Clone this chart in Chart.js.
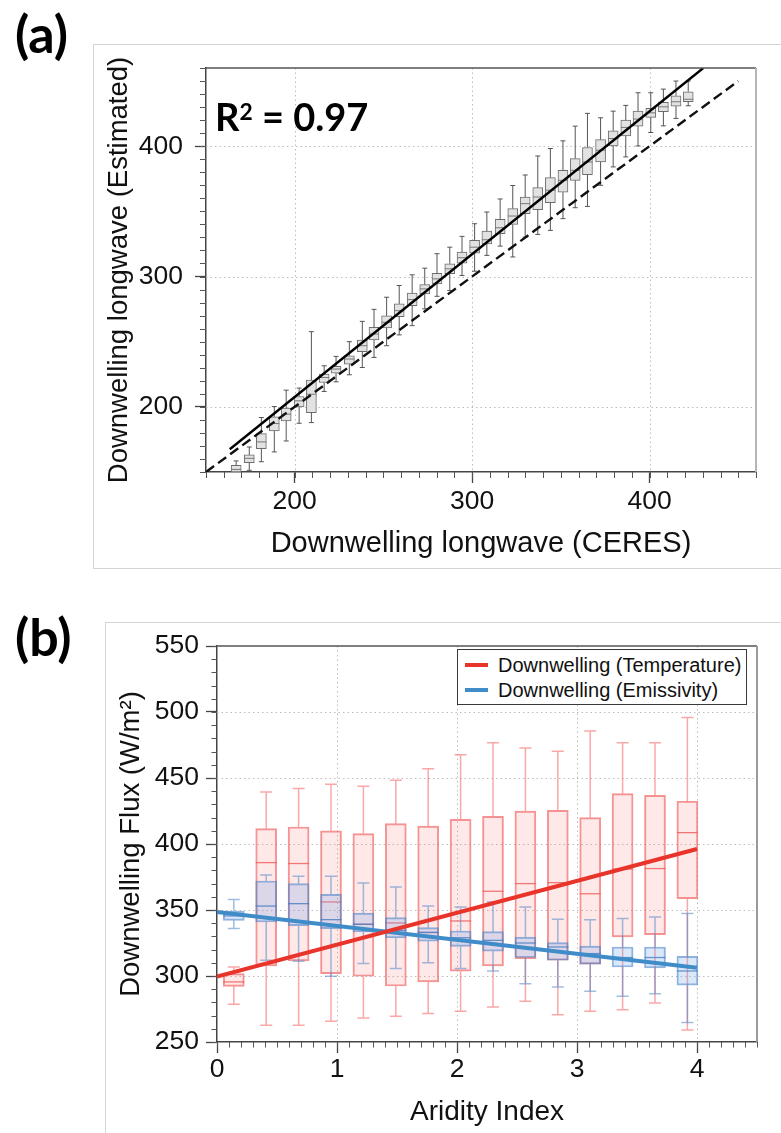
<!DOCTYPE html>
<html lang="en">
<head>
<meta charset="utf-8">
<title>Downwelling longwave</title>
<script src="https://cdn.jsdelivr.net/npm/chart.js@4.4.1/dist/chart.umd.min.js"></script>
<style>
  html, body { margin: 0; padding: 0; background: #fff; }
  body { position: relative; width: 781px; height: 1133px; overflow: hidden; }
  .frame { position: absolute; border: 1.5px solid #d5d5d5; box-sizing: border-box; }
  .tag { position: absolute; font-family: Lato, "Open Sans", sans-serif; font-weight: 700; color: #000; line-height: 1; white-space: nowrap; }
  canvas { position: absolute; left: 0; }
  #legendB { position: absolute; left: 457px; top: 649px; width: 290px; height: 56px; box-sizing: border-box;
             border: 1.5px solid #3a3a3a; background: #fff; font-family: "Liberation Sans", Arial, sans-serif;
             font-size: 20px; color: #111; }
  #legendB .row { position: absolute; left: 0; height: 24px; display: flex; align-items: center; white-space: nowrap; }
  #legendB .swatch { width: 23px; height: 3.5px; margin-left: 7px; margin-right: 10px; }
</style>
</head>
<body>
<div class="frame" style="left:93px;top:44px;width:720px;height:525px;"></div>
<div class="frame" style="left:105px;top:622px;width:720px;height:560px;"></div>
<div class="tag" style="left:15px;top:7px;font-size:52px;">(a)</div>
<div class="tag" style="left:15px;top:610px;font-size:52px;">(b)</div>
<canvas id="chartA" width="781" height="580" style="top:0"></canvas>
<canvas id="chartB" width="781" height="548" style="top:585px"></canvas>
<div class="tag" style="left:215px;top:97px;font-size:38px;">R<span style="font-size:0.6em;vertical-align:11px">2</span> = 0.97</div>
<div id="legendB"></div>

<script>
// ---------- Panel (a): estimated vs. CERES downwelling longwave, binned ----------
const ceresBins = [167.0, 174.4, 181.2, 188.5, 195.2, 202.5, 209.4, 216.6, 223.3, 230.8, 238.1, 244.7, 251.8,
  258.9, 266.2, 273.3, 280.2, 287.4, 294.3, 301.4, 308.3, 315.8, 322.9, 329.9, 337.0, 344.1, 351.2, 358.1,
  365.0, 372.4, 379.5, 386.6, 393.5, 400.7, 407.8, 414.9, 421.8];
const estWhiskerLow = [148, 151.3, 157.9, 165.4, 173.8, 187.4, 187.9, 211.8, 219.2, 224.6, 230.2, 237.9, 246.9,
  255.2, 262.3, 275.2, 284.8, 289.2, 300.8, 304.1, 316.2, 323.3, 315.0, 330.2, 332.3, 335.4, 344.4, 352.8,
  353.8, 370.0, 384.1, 391.8, 400.2, 410.5, 415.6, 421.3, 431.0];
const estQ1 = [150, 157.2, 167.9, 181.5, 189.2, 200.0, 195.6, 218.7, 225.9, 232.8, 242.3, 251.3, 260.5,
  269.2, 277.7, 286.7, 294.4, 302.1, 310.3, 318.0, 325.1, 332.8, 340.0, 348.2, 351.3, 356.7, 364.8, 373.8,
  378.2, 387.9, 400.2, 407.9, 415.4, 422.1, 426.4, 430.8, 434.1];
const estMedian = [152, 160.5, 173.1, 187.2, 194.4, 204.6, 209.7, 222.5, 229.0, 236.7, 246.9, 255.9, 264.9,
  273.8, 282.3, 290.5, 298.2, 305.9, 314.4, 322.5, 328.2, 337.4, 346.4, 355.9, 361.0, 366.2, 373.8, 381.5,
  387.9, 396.9, 405.9, 414.4, 420.8, 425.6, 430.2, 434.1, 436.0];
const estQ3 = [155.1, 163.1, 179.5, 192.3, 199.0, 207.9, 220.5, 225.1, 231.0, 239.2, 251.3, 261.0, 269.8,
  279.0, 287.2, 293.8, 302.5, 309.8, 318.7, 327.7, 334.8, 343.8, 352.1, 361.0, 368.2, 375.9, 381.5, 390.5,
  399.0, 405.1, 411.8, 420.0, 426.9, 429.0, 433.6, 438.7, 441.8];
const estWhiskerHigh = [158.5, 169.2, 191.8, 200.2, 212.8, 214.4, 257.7, 231.5, 238.7, 250.0, 265.6, 274.8, 284.1,
  293.1, 301.3, 306.4, 317.5, 322.5, 330.8, 340.5, 349.5, 359.5, 369.8, 377.9, 392.5, 398.2, 404.1, 415.4,
  425.2, 421.8, 426.9, 431.3, 441.0, 441.0, 443.8, 450.0, 450.0];
const fitLineX = [163.4, 430.3];
const fitLineY = [167.5, 460.0];
const oneToOneX = [150, 450];
const oneToOneY = [150, 450];
const ticksA = [200, 300, 400];

// ---------- Panel (b): downwelling flux components vs. aridity index ----------
const aridityBins = [0.14, 0.41, 0.68, 0.95, 1.22, 1.49, 1.76, 2.03, 2.30, 2.57, 2.84, 3.11, 3.38, 3.65, 3.92];
const tempLow    = [278.6, 262.7, 262.7, 265.7, 268.2, 269.5, 271.5, 273.3, 276.5, 280.8, 270.7, 273.3, 274.5, 279.5, 259.0];
const tempQ1     = [292.2, 307.6, 311.4, 301.8, 299.8, 292.4, 295.5, 303.6, 307.6, 313.2, 311.9, 309.0, 329.7, 331.3, 358.6];
const tempMedian = [295.5, 385.9, 385.2, 356.1, 339.2, 340.2, 333.0, 341.7, 364.2, 370.0, 370.7, 362.3, 381.0, 381.4, 408.6];
const tempQ3     = [301.8, 411.6, 412.9, 409.9, 407.9, 415.4, 413.6, 418.7, 421.0, 425.0, 425.5, 420.0, 438.2, 436.9, 432.4];
const tempHigh   = [306.8, 439.4, 442.0, 445.2, 443.7, 448.3, 457.1, 467.7, 476.7, 472.7, 470.2, 485.6, 476.7, 476.7, 495.8];
const emisLow    = [335.9, 311.9, 311.1, 299.8, 309.4, 305.6, 310.1, 305.6, 303.8, 294.2, 291.7, 288.4, 284.6, 286.6, 264.7];
const emisQ1     = [342.2, 340.9, 338.1, 335.9, 333.3, 328.8, 326.3, 322.5, 318.9, 314.0, 311.9, 308.9, 306.8, 306.1, 293.0];
const emisMedian = [345.5, 353.0, 354.8, 342.7, 339.2, 334.6, 333.0, 329.0, 327.0, 325.0, 322.0, 317.0, 314.0, 314.0, 303.8];
const emisQ3     = [349.2, 372.0, 370.0, 361.9, 347.7, 344.2, 336.6, 334.1, 333.6, 329.5, 325.3, 322.7, 322.0, 322.0, 314.9];
const emisHigh   = [357.9, 376.5, 375.5, 375.5, 370.5, 367.5, 353.0, 352.3, 356.1, 352.3, 343.0, 342.7, 343.5, 344.7, 347.3];
const trendX     = [0, 4];
const tempTrendY = [299.5, 396.2];
const emisTrendY = [348.5, 306.3];
const ticksBx = [0, 1, 2, 3, 4];
const ticksBy = [250, 300, 350, 400, 450, 500, 550];

const FONT = '"Liberation Sans", Arial, sans-serif';

// Whiskers and median lines for floating-bar box plots
const boxWhiskers = {
  id: 'boxWhiskers',
  afterDatasetDraw(chart, args) {
    const ds = chart.data.datasets[args.index];
    if (!ds.whisker) return;
    const { ctx, chartArea: a, scales: { x, y } } = chart;
    const w = ds.whisker;
    ctx.save();
    ctx.beginPath();
    ctx.rect(a.left, a.top, a.right - a.left, a.bottom - a.top);
    ctx.clip();
    ds.data.forEach((d, i) => {
      const cx = x.getPixelForValue(d.x);
      const yLo = y.getPixelForValue(w.low[i]);
      const yHi = y.getPixelForValue(w.high[i]);
      const yQ1 = y.getPixelForValue(d.y[0]);
      const yQ3 = y.getPixelForValue(d.y[1]);
      const yMed = y.getPixelForValue(w.median[i]);
      ctx.strokeStyle = w.color;
      ctx.lineWidth = w.width;
      ctx.beginPath();
      ctx.moveTo(cx, yQ3); ctx.lineTo(cx, yHi);
      ctx.moveTo(cx, yQ1); ctx.lineTo(cx, yLo);
      ctx.moveTo(cx - w.cap / 2, yHi); ctx.lineTo(cx + w.cap / 2, yHi);
      ctx.moveTo(cx - w.cap / 2, yLo); ctx.lineTo(cx + w.cap / 2, yLo);
      ctx.stroke();
      const half = ds.barThickness / 2;
      ctx.strokeStyle = w.medianColor;
      ctx.lineWidth = w.medianWidth;
      ctx.beginPath();
      ctx.moveTo(cx - half, yMed); ctx.lineTo(cx + half, yMed);
      ctx.stroke();
    });
    ctx.restore();
  }
};

// Dotted grid, minor tick marks and the top/right frame of the plot area
const axisDecor = {
  id: 'axisDecor',
  beforeDatasetsDraw(chart, args, o) {
    const { ctx, chartArea: a, scales: { x, y } } = chart;
    ctx.save();
    ctx.strokeStyle = o.gridColor;
    ctx.lineWidth = 1;
    ctx.setLineDash([1.5, 3]);
    ctx.beginPath();
    o.gridX.forEach(v => { const p = Math.round(x.getPixelForValue(v)) + 0.5; ctx.moveTo(p, a.top); ctx.lineTo(p, a.bottom); });
    o.gridY.forEach(v => { const p = Math.round(y.getPixelForValue(v)) + 0.5; ctx.moveTo(a.left, p); ctx.lineTo(a.right, p); });
    ctx.stroke();
    ctx.restore();
  },
  afterDraw(chart, args, o) {
    const { ctx, chartArea: a, scales: { x, y } } = chart;
    ctx.save();
    ctx.strokeStyle = o.tickColor;
    ctx.lineWidth = 1;
    ctx.beginPath();
    const [x0, x1, xs] = o.minorX;
    for (let k = 0; x0 + k * xs <= x1 + 1e-9; k++) {
      const p = Math.round(x.getPixelForValue(x0 + k * xs)) + 0.5;
      ctx.moveTo(p, a.bottom); ctx.lineTo(p, a.bottom + o.minorLen);
    }
    const [y0, y1, ys] = o.minorY;
    for (let k = 0; y0 + k * ys <= y1 + 1e-9; k++) {
      const p = Math.round(y.getPixelForValue(y0 + k * ys)) + 0.5;
      ctx.moveTo(a.left, p); ctx.lineTo(a.left - o.minorLen, p);
    }
    ctx.stroke();
    ctx.lineWidth = 1.5;
    ctx.strokeStyle = o.topColor;
    ctx.beginPath(); ctx.moveTo(a.left, a.top); ctx.lineTo(a.right, a.top); ctx.stroke();
    ctx.lineWidth = 2;
    ctx.strokeStyle = o.rightColor;
    ctx.beginPath(); ctx.moveTo(a.right, a.top); ctx.lineTo(a.right, a.bottom); ctx.stroke();
    ctx.restore();
  }
};

function pts(xs, ys) { return xs.map((v, i) => ({ x: v, y: ys[i] })); }
function boxes(xs, q1, q3) { return xs.map((v, i) => ({ x: v, y: [q1[i], q3[i]] })); }

function axis(opts) {
  return {
    type: 'linear',
    min: opts.min, max: opts.max,
    offset: false,
    afterBuildTicks: s => { s.ticks = opts.ticks.map(v => ({ value: v })); },
    afterFit: s => { if (opts.width) s.width = opts.width; if (opts.height) s.height = opts.height; },
    grid: { display: true, drawOnChartArea: false, offset: false, tickLength: opts.tickLength, tickColor: '#444', tickWidth: 1.3 },
    border: { display: true, color: '#444', width: 1.5 },
    ticks: { autoSkip: false, maxRotation: 0, padding: opts.pad, color: '#111', font: { family: FONT, size: opts.tickSize, lineHeight: 1.2 } },
    title: { display: true, text: opts.title, color: '#111', padding: opts.titlePad, font: { family: FONT, size: opts.titleSize, lineHeight: 1.2 } }
  };
}

// ---------- Chart (a) ----------
new Chart(document.getElementById('chartA'), {
  type: 'bar',
  data: {
    datasets: [
      { type: 'line', data: pts(fitLineX, fitLineY), borderColor: '#000', borderWidth: 2.4, pointRadius: 0, order: 0 },
      { type: 'line', data: pts(oneToOneX, oneToOneY), borderColor: '#111', borderWidth: 2.4, borderDash: [10, 5], pointRadius: 0, order: 1 },
      { type: 'bar', data: boxes(ceresBins, estQ1, estQ3), backgroundColor: '#e2e2e2', borderColor: '#6d6d6d',
        borderWidth: 1, borderSkipped: false, barThickness: 10, grouped: false, order: 2,
        whisker: { low: estWhiskerLow, high: estWhiskerHigh, median: estMedian, color: '#555', width: 1, cap: 5,
                   medianColor: '#777', medianWidth: 1 } }
    ]
  },
  options: {
    responsive: false, animation: false, devicePixelRatio: 1,
    layout: { padding: { left: 96, top: 68, right: 25, bottom: 0 } },
    plugins: {
      legend: { display: false }, tooltip: { enabled: false },
      axisDecor: { gridColor: '#bdbdbd', gridX: ticksA, gridY: ticksA, tickColor: '#555', minorLen: 6,
                   minorX: [150, 460, 10], minorY: [150, 460, 10], topColor: '#555', rightColor: '#b5b5b5' }
    },
    scales: {
      x: axis({ min: 150, max: 460, ticks: ticksA, height: 108, tickLength: 11, pad: 3, tickSize: 26.5,
                title: 'Downwelling longwave (CERES)', titleSize: 29, titlePad: { top: 0, bottom: 19 } }),
      y: axis({ min: 150, max: 460, ticks: ticksA, width: 110, tickLength: 11, pad: 12, tickSize: 26.5,
                title: 'Downwelling longwave (Estimated)', titleSize: 27.5, titlePad: { top: 7, bottom: 0 } })
    }
  },
  plugins: [axisDecor, boxWhiskers]
});

// ---------- Chart (b) ----------
const chartB = new Chart(document.getElementById('chartB'), {
  type: 'bar',
  data: {
    datasets: [
      { type: 'line', label: 'Downwelling (Temperature)', data: pts(trendX, tempTrendY), borderColor: '#e8342a',
        borderWidth: 4, pointRadius: 0, order: 0 },
      { type: 'line', label: 'Downwelling (Emissivity)', data: pts(trendX, emisTrendY), borderColor: '#3f8cc8',
        borderWidth: 4, pointRadius: 0, order: 0 },
      { type: 'bar', label: 'Temperature boxes', data: boxes(aridityBins, tempQ1, tempQ3),
        backgroundColor: 'rgba(255,110,110,0.16)', borderColor: 'rgba(240,90,90,0.65)',
        borderWidth: 1.3, borderSkipped: false, barThickness: 21, grouped: false, order: 2,
        whisker: { low: tempLow, high: tempHigh, median: tempMedian, color: 'rgba(245,95,95,0.55)', width: 1.5, cap: 12,
                   medianColor: 'rgba(240,90,90,0.8)', medianWidth: 1.3 } },
      { type: 'bar', label: 'Emissivity boxes', data: boxes(aridityBins, emisQ1, emisQ3),
        backgroundColor: 'rgba(110,165,235,0.25)', borderColor: 'rgba(70,130,200,0.6)',
        borderWidth: 1.3, borderSkipped: false, barThickness: 21, grouped: false, order: 1,
        whisker: { low: emisLow, high: emisHigh, median: emisMedian, color: 'rgba(80,135,200,0.55)', width: 1.5, cap: 12,
                   medianColor: 'rgba(70,125,195,0.8)', medianWidth: 1.3 } }
    ]
  },
  options: {
    responsive: false, animation: false, devicePixelRatio: 1,
    layout: { padding: { left: 108, top: 61, right: 24, bottom: 0 } },
    plugins: {
      legend: { display: false }, tooltip: { enabled: false },
      axisDecor: { gridColor: '#bdbdbd', gridX: [1, 2, 3, 4], gridY: [300, 350, 400, 450, 500], tickColor: '#555', minorLen: 5.5,
                   minorX: [0, 4.5, 0.1], minorY: [250, 550, 10], topColor: '#555', rightColor: '#9a9a9a' }
    },
    scales: {
      x: axis({ min: 0, max: 4.5, ticks: ticksBx, height: 91, tickLength: 11, pad: 1, tickSize: 26.5,
                title: 'Aridity Index', titleSize: 28, titlePad: { top: 0, bottom: 4 } }),
      y: axis({ min: 250, max: 550, ticks: ticksBy, width: 109, tickLength: 11, pad: 7, tickSize: 26.5,
                title: 'Downwelling Flux (W/m²)', titleSize: 27.5, titlePad: { top: 7, bottom: 0 } })
    }
  },
  plugins: [axisDecor, boxWhiskers]
});

// Legend for the two trend lines of chart (b)
const legendEl = document.getElementById('legendB');
chartB.data.datasets.filter(d => d.type === 'line').forEach((d, i) => {
  const row = document.createElement('div');
  row.className = 'row';
  row.style.top = (3 + i * 25) + 'px';
  const sw = document.createElement('span');
  sw.className = 'swatch';
  sw.style.background = d.borderColor;
  const tx = document.createElement('span');
  tx.textContent = d.label;
  row.appendChild(sw);
  row.appendChild(tx);
  legendEl.appendChild(row);
});
</script>
</body>
</html>
